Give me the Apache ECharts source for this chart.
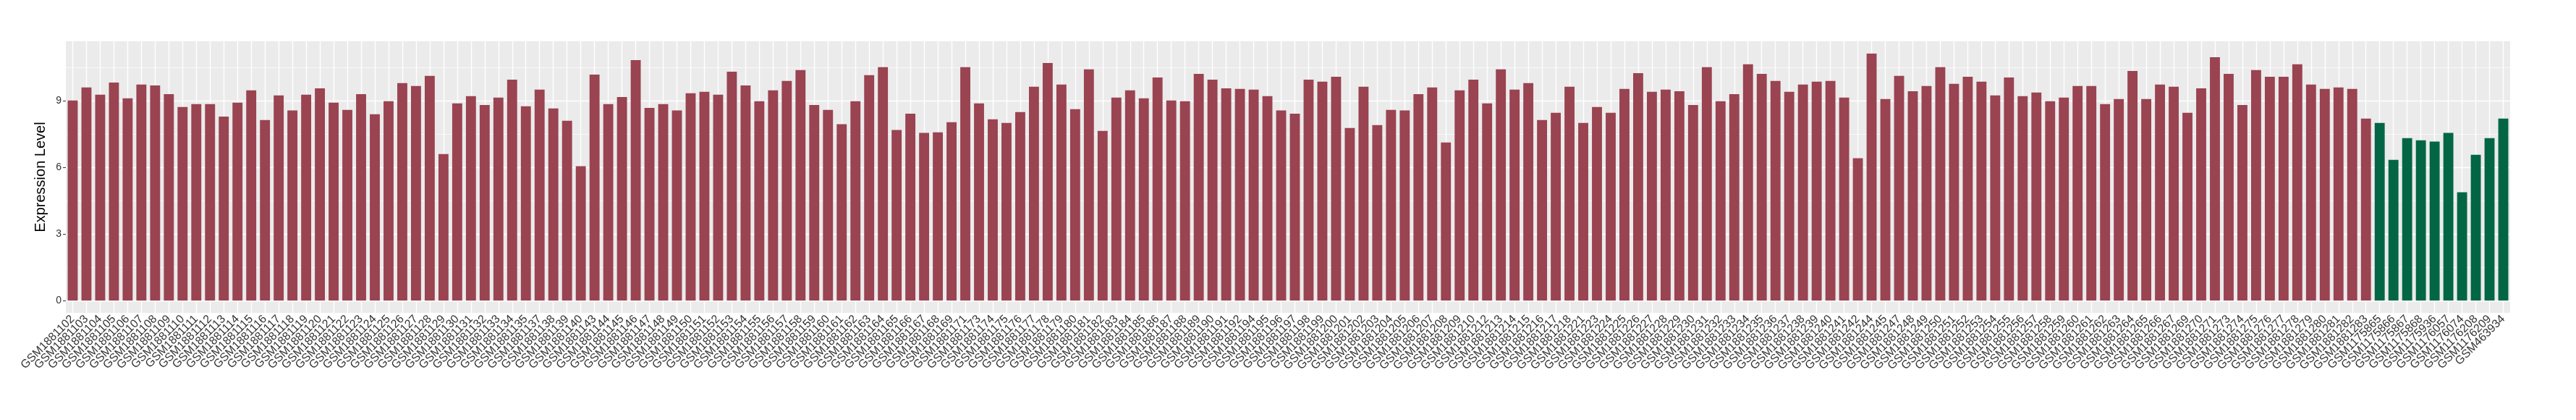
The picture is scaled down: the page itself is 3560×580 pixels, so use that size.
<!DOCTYPE html>
<html>
<head>
<meta charset="utf-8">
<script src="https://cdn.jsdelivr.net/npm/echarts@6/dist/echarts.min.js"></script>
<style>
html,body{margin:0;padding:0;background:#fff;}
#chart{width:3560px;height:580px;}
</style>
</head>
<body>
<div id="chart"></div>
<script>
const categories = [
"GSM1881102","GSM1881103","GSM1881104","GSM1881105","GSM1881106","GSM1881107","GSM1881108","GSM1881109","GSM1881110","GSM1881111",
"GSM1881112","GSM1881113","GSM1881114","GSM1881115","GSM1881116","GSM1881117","GSM1881118","GSM1881119","GSM1881120","GSM1881121",
"GSM1881122","GSM1881123","GSM1881124","GSM1881125","GSM1881126","GSM1881127","GSM1881128","GSM1881129","GSM1881130","GSM1881131",
"GSM1881132","GSM1881133","GSM1881134","GSM1881135","GSM1881137","GSM1881138","GSM1881139","GSM1881140","GSM1881143","GSM1881144",
"GSM1881145","GSM1881146","GSM1881147","GSM1881148","GSM1881149","GSM1881150","GSM1881151","GSM1881152","GSM1881153","GSM1881154",
"GSM1881155","GSM1881156","GSM1881157","GSM1881158","GSM1881159","GSM1881160","GSM1881161","GSM1881162","GSM1881163","GSM1881164",
"GSM1881165","GSM1881166","GSM1881167","GSM1881168","GSM1881169","GSM1881171","GSM1881173","GSM1881174","GSM1881175","GSM1881176",
"GSM1881177","GSM1881178","GSM1881179","GSM1881180","GSM1881181","GSM1881182","GSM1881183","GSM1881184","GSM1881185","GSM1881186",
"GSM1881187","GSM1881188","GSM1881189","GSM1881190","GSM1881191","GSM1881192","GSM1881194","GSM1881195","GSM1881196","GSM1881197",
"GSM1881198","GSM1881199","GSM1881200","GSM1881201","GSM1881202","GSM1881203","GSM1881204","GSM1881205","GSM1881206","GSM1881207",
"GSM1881208","GSM1881209","GSM1881210","GSM1881212","GSM1881213","GSM1881214","GSM1881215","GSM1881216","GSM1881217","GSM1881218",
"GSM1881221","GSM1881223","GSM1881224","GSM1881225","GSM1881226","GSM1881227","GSM1881228","GSM1881229","GSM1881230","GSM1881231",
"GSM1881232","GSM1881233","GSM1881234","GSM1881235","GSM1881236","GSM1881237","GSM1881238","GSM1881239","GSM1881240","GSM1881241",
"GSM1881242","GSM1881244","GSM1881245","GSM1881247","GSM1881248","GSM1881249","GSM1881250","GSM1881251","GSM1881252","GSM1881253",
"GSM1881254","GSM1881255","GSM1881256","GSM1881257","GSM1881258","GSM1881259","GSM1881260","GSM1881261","GSM1881262","GSM1881263",
"GSM1881264","GSM1881265","GSM1881266","GSM1881267","GSM1881269","GSM1881270","GSM1881271","GSM1881273","GSM1881274","GSM1881275",
"GSM1881276","GSM1881277","GSM1881278","GSM1881279","GSM1881280","GSM1881281","GSM1881282","GSM1881283",
"GSM1175865","GSM1175866","GSM1175867","GSM1175868","GSM1175936","GSM1176057","GSM1176074","GSM1176208","GSM1176209","GSM463934"
];

const redValues = [
9.00, 9.59, 9.26, 9.81, 9.10, 9.72, 9.68, 9.29, 8.71, 8.84, 8.84, 8.28, 8.90, 9.46, 8.12, 9.23, 8.55, 9.26, 9.55, 8.90,
8.58, 9.29, 8.38, 8.97, 9.78, 9.65, 10.11, 6.59, 8.87, 9.20, 8.80, 9.13, 9.94, 8.74, 9.49, 8.64,
8.09, 6.04, 10.17, 8.84, 9.16, 10.82, 8.67, 8.84, 8.55, 9.33, 9.39, 9.26, 10.30, 9.68, 8.97, 9.46, 9.88, 10.37, 8.80, 8.58,
7.93, 8.97, 10.14, 10.50, 7.67, 8.41, 7.54, 7.57, 8.02, 10.50, 8.87, 8.15, 7.99, 8.48, 9.62, 10.69,
9.72, 8.61, 10.40, 7.63, 9.13, 9.46, 9.10, 10.04, 9.00, 8.97, 10.20, 9.94, 9.55, 9.52, 9.49, 9.20, 8.55, 8.41, 9.94, 9.85,
10.07, 7.76, 9.62, 7.89, 8.58, 8.55, 9.29, 9.59, 7.11, 9.46, 9.94, 8.87, 10.40, 9.49, 9.78,
8.12, 8.45, 9.62, 7.99, 8.71, 8.45, 9.52, 10.23, 9.39, 9.49, 9.42, 8.80, 10.50, 8.97, 9.29, 10.63, 10.20, 9.88, 9.39, 9.72,
9.85, 9.88, 9.13, 6.40, 11.11, 9.07, 10.11, 9.42, 9.65, 10.50, 9.75, 10.07, 9.85, 9.23, 10.04, 9.20,
9.36, 8.97, 9.13, 9.65, 9.65, 8.84, 9.07, 10.33, 9.07, 9.72, 9.62, 8.45, 9.55, 10.95, 10.20, 8.80, 10.37, 10.07, 10.07, 10.63,
9.72, 9.52, 9.59, 9.52, 8.19
];

const greenValues = [7.99, 6.33, 7.31, 7.21, 7.15, 7.54, 4.87, 6.56, 7.31, 8.19];

const yTicks = [0, 3, 6, 9];
const yMinorLines = [1.5, 4.5, 7.5, 10.5];

const redColor = '#9A4351';
const greenColor = '#026644';

const nRed = redValues.length;
const redData = categories.map((c, i) => i < nRed ? redValues[i] : '-');
const greenData = categories.map((c, i) => i < nRed ? '-' : greenValues[i - nRed]);

const dataMax = Math.max(...redValues, ...greenValues);
const yMin = -0.05 * dataMax;
const yMax = 1.05 * dataMax;

const gridLineData = []
  .concat(yMinorLines.map(v => ({ yAxis: v, lineStyle: { width: 0.7 } })))
  .concat(yTicks.map(v => ({ yAxis: v, lineStyle: { width: 1.4 } })))
  .concat(categories.map(c => ({ xAxis: c, lineStyle: { width: 1.4 } })));

const chart = echarts.init(document.getElementById('chart'), null, { renderer: 'canvas' });
chart.setOption({
  animation: false,
  textStyle: { fontFamily: '"Liberation Sans", Arial, Helvetica, sans-serif' },
  grid: {
    left: 91, right: 91, top: 57, bottom: 148,
    show: true, backgroundColor: '#EBEBEB', borderWidth: 0
  },
  xAxis: {
    type: 'category',
    data: categories,
    boundaryGap: true,
    axisLine: { show: false },
    axisTick: { show: true, alignWithLabel: true, interval: 0, length: 4, lineStyle: { color: '#333333', width: 1 } },
    axisLabel: { interval: 0, rotate: 45, fontSize: 16, color: '#333333', margin: 6 },
    splitLine: { show: false }
  },
  yAxis: {
    type: 'value',
    min: yMin,
    max: yMax,
    name: 'Expression Level',
    nameLocation: 'middle',
    nameGap: 14,
    nameTextStyle: { fontSize: 20, color: '#000000' },
    axisLine: { show: false },
    axisTick: { show: true, length: 4, customValues: yTicks, lineStyle: { color: '#333333', width: 1 } },
    axisLabel: { fontSize: 14, color: '#333333', margin: 6, customValues: yTicks },
    splitLine: { show: false }
  },
  series: [
    {
      type: 'line',
      data: [],
      z: 1,
      silent: true,
      markLine: {
        silent: true,
        z: 1,
        symbol: ['none', 'none'],
        label: { show: false },
        animation: false,
        lineStyle: { color: '#FFFFFF', type: 'solid', width: 1.4 },
        emphasis: { disabled: true },
        data: gridLineData
      }
    },
    {
      type: 'bar',
      data: redData,
      barWidth: '73%',
      barGap: '-100%',
      z: 3,
      itemStyle: { color: redColor }
    },
    {
      type: 'bar',
      data: greenData,
      barWidth: '73%',
      barGap: '-100%',
      z: 3,
      itemStyle: { color: greenColor }
    }
  ]
});
</script>
</body>
</html>
